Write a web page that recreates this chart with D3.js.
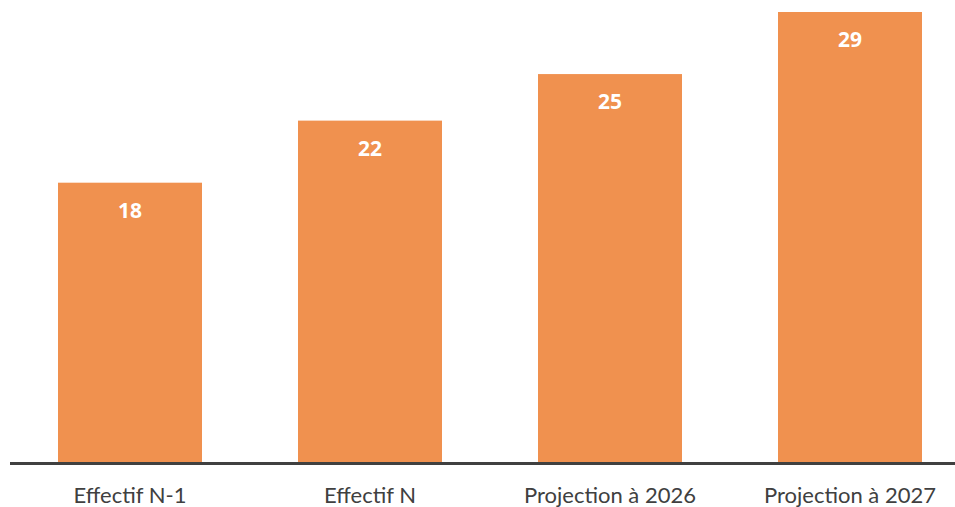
<!DOCTYPE html>
<html>
<head>
<meta charset="utf-8">
<script src="https://cdn.jsdelivr.net/npm/d3@7"></script>
<style>
  body { margin: 0; background: #fff; }
</style>
</head>
<body>
<div id="chart"></div>
<script>
var categories = ["Effectif N-1", "Effectif N", "Projection à 2026", "Projection à 2027"];
var values = [18, 22, 25, 29];

var width = 955, height = 507;
var baseline = 462;

var svg = d3.select("#chart").append("svg")
	.attr("width", width)
	.attr("height", height);

var x = d3.scaleBand()
	.domain(categories)
	.range([10, 970])
	.paddingInner(0.4)
	.paddingOuter(0.2);

var y = d3.scaleLinear()
	.domain([0, 29])
	.range([baseline, 12]);

var data = categories.map(function(c, i){ return {name: c, value: values[i]}; });

svg.selectAll("rect").data(data).enter().append("rect")
	.attr("x", function(d){ return x(d.name); })
	.attr("y", function(d){ return y(d.value); })
	.attr("width", x.bandwidth())
	.attr("height", function(d){ return baseline - y(d.value); })
	.attr("fill", "#F0914F");

svg.selectAll("text.val").data(data).enter().append("text")
	.attr("class", "val")
	.attr("x", function(d){ return x(d.name) + x.bandwidth() / 2; })
	.attr("y", function(d){ return y(d.value) + 35; })
	.attr("text-anchor", "middle")
	.attr("font-family", "Open Sans, sans-serif")
	.attr("font-weight", "bold")
	.attr("font-size", "21px")
	.attr("fill", "#fff")
	.text(function(d){ return d.value; });

// axis line
svg.append("line")
	.attr("x1", 10)
	.attr("x2", 955)
	.attr("y1", baseline + 1.5)
	.attr("y2", baseline + 1.5)
	.style("stroke", "#404040")
	.style("stroke-width", 3);

svg.selectAll("text.cat").data(data).enter().append("text")
	.attr("class", "cat")
	.attr("x", function(d){ return x(d.name) + x.bandwidth() / 2; })
	.attr("y", 503)
	.attr("text-anchor", "middle")
	.attr("font-family", "Lato, sans-serif")
	.attr("font-size", "22px")
	.attr("fill", "#404040")
	.text(function(d){ return d.name; });
</script>
</body>
</html>
